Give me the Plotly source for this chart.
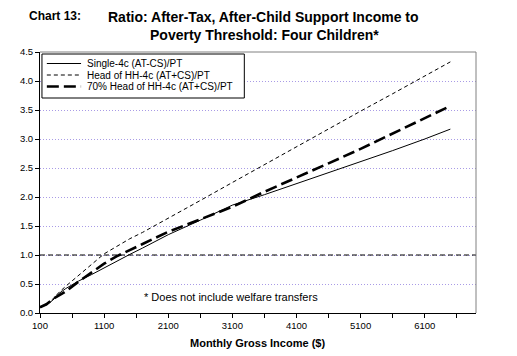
import plotly.graph_objects as go

# ---- data ----
income = [100, 200, 300, 400, 500, 700, 900, 1100, 1300, 1500, 1700, 2100,
          2600, 3100, 3600, 4100, 4600, 5100, 5600, 6100, 6500]
single_4c = [0.10, 0.14, 0.22, 0.34, 0.42, 0.55, 0.66, 0.78, 0.89, 1.01, 1.12, 1.35,
             1.60, 1.86, 2.04, 2.23, 2.42, 2.60, 2.80, 3.00, 3.17]
head_hh_4c = [0.10, 0.15, 0.24, 0.36, 0.46, 0.65, 0.84, 1.02, 1.15, 1.28, 1.39, 1.63,
              1.94, 2.25, 2.56, 2.86, 3.17, 3.48, 3.78, 4.08, 4.33]
head_hh_70 = [0.10, 0.15, 0.24, 0.31, 0.37, 0.54, 0.70, 0.85, 0.98, 1.09, 1.19, 1.40,
              1.62, 1.83, 2.09, 2.33, 2.58, 2.83, 3.09, 3.35, 3.57]
series_names = ["Single-4c (AT-CS)/PT", "Head of HH-4c (AT+CS)/PT",
                "70% Head of HH-4c (AT+CS)/PT"]
poverty_ratio = 1.0
x_tickvals = list(range(100, 6601, 500))
x_ticklabels = [str(v) if (v - 100) % 1000 == 0 else "" for v in x_tickvals]
y_tickvals = [0.0, 0.5, 1.0, 1.5, 2.0, 2.5, 3.0, 3.5, 4.0, 4.5]
y_ticklabels = ["%.1f" % v for v in y_tickvals]

FONT = "Liberation Sans, Arial, sans-serif"
OFF = 8                      # page body margin of the html page
W, H = 517 - OFF, 356 - OFF
PLOT_L, PLOT_R, PLOT_T, PLOT_B = 30, 476, 52, 313   # plot area in page pixels
L = PLOT_L - OFF
T = PLOT_T - OFF
R = W - (PLOT_R - OFF)
B = H - (PLOT_B - OFF)
PW, PH = PLOT_R - PLOT_L, PLOT_B - PLOT_T


def px(x):
    return (x - PLOT_L) / PW


def py(y):
    return (PLOT_B - y) / PH


styles = [
    dict(color="black", width=1),
    dict(color="black", width=1, dash="4px,3px"),
    dict(color="black", width=2.6, dash="12px,5px"),
]

fig = go.Figure()
for name, vals, st in zip(series_names, [single_4c, head_hh_4c, head_hh_70], styles):
    fig.add_trace(go.Scatter(x=income, y=vals, mode="lines", name=name,
                             line=st, showlegend=False))

shapes = [
    # poverty threshold line
    dict(type="line", xref="paper", yref="y", x0=0, x1=1, y0=poverty_ratio,
         y1=poverty_ratio, line=dict(color="black", width=1, dash="5px,3px")),
    # top and right gray border
    dict(type="line", xref="paper", yref="paper", x0=0, x1=1, y0=1, y1=1,
         line=dict(color="#808080", width=1)),
    dict(type="line", xref="paper", yref="paper", x0=1, x1=1, y0=0, y1=1,
         line=dict(color="#808080", width=1)),
    # legend box
    dict(type="rect", xref="paper", yref="paper", x0=px(32), x1=px(239),
         y0=py(98), y1=py(54), line=dict(color="black", width=1),
         fillcolor="white", layer="above"),
]
annotations = []
rows_y = [63.5, 75, 86.5]
for name, st, ry in zip(series_names, styles, rows_y):
    shapes.append(dict(type="line", xref="paper", yref="paper", x0=px(37), x1=px(72),
                       y0=py(ry), y1=py(ry), line=st, layer="above"))
    annotations.append(dict(text=name, xref="paper", yref="paper", x=px(76), y=py(ry),
                            xanchor="left", yanchor="middle", showarrow=False,
                            font=dict(family=FONT, size=10, color="black")))

annotations += [
    dict(text="Chart 13:", xref="paper", yref="paper", x=px(17), y=py(16),
         xanchor="left", yanchor="middle", showarrow=False,
         font=dict(family=FONT, size=12, color="black", weight="bold")),
    dict(text="Ratio: After-Tax, After-Child Support Income to", xref="paper",
         yref="paper", x=px(259), y=py(17), xanchor="center", yanchor="middle",
         showarrow=False, font=dict(family=FONT, size=14, color="black", weight="bold")),
    dict(text="Poverty Threshold: Four Children*", xref="paper",
         yref="paper", x=px(260), y=py(34.5), xanchor="center", yanchor="middle",
         showarrow=False, font=dict(family=FONT, size=14, color="black", weight="bold")),
    dict(text="* Does not include welfare transfers", xref="paper", yref="paper",
         x=px(225.5), y=py(297), xanchor="center", yanchor="middle", showarrow=False,
         font=dict(family=FONT, size=11, color="black")),
    dict(text="Monthly Gross Income ($)", xref="paper", yref="paper",
         x=px(252), y=py(343), xanchor="center", yanchor="middle", showarrow=False,
         font=dict(family=FONT, size=11, color="black", weight="bold")),
]

fig.update_layout(
    width=W, height=H, autosize=False,
    margin=dict(l=L, r=R, t=T, b=B, pad=0),
    paper_bgcolor="white", plot_bgcolor="white",
    font=dict(family=FONT, size=9.5, color="black"),
    shapes=shapes, annotations=annotations,
    xaxis=dict(range=[100, 6900], tickmode="array", tickvals=x_tickvals,
               ticktext=x_ticklabels, ticks="outside", ticklen=4, tickcolor="black",
               showline=True, linecolor="black", linewidth=1, showgrid=False,
               zeroline=False, tickfont=dict(family=FONT, size=9.5)),
    yaxis=dict(range=[0, 4.5], tickmode="array", tickvals=y_tickvals,
               ticktext=y_ticklabels, ticks="outside", ticklen=4, tickcolor="black",
               showline=True, linecolor="black", linewidth=1, showgrid=True,
               gridcolor="#a99be6", griddash="1px,2px", gridwidth=1,
               zeroline=False, tickfont=dict(family=FONT, size=9.5)),
)

fig.write_html("out.html")
